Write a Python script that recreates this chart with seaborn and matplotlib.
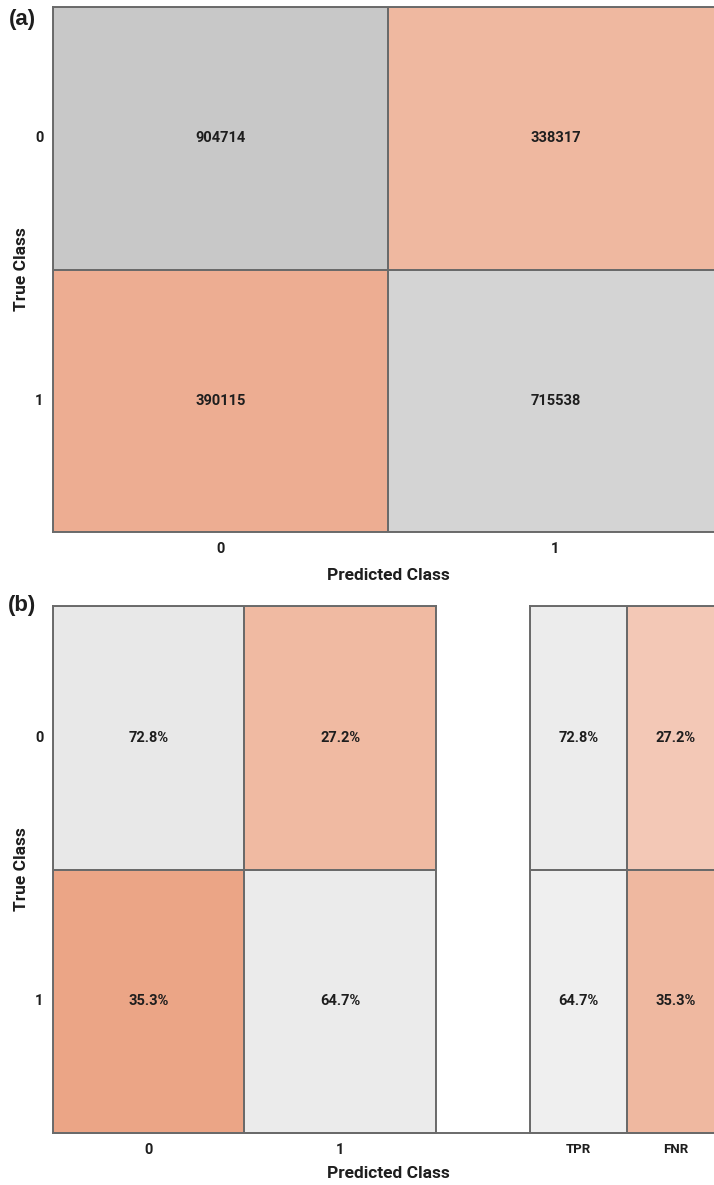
import numpy as np
import seaborn as sns
import matplotlib.pyplot as plt
from matplotlib.colors import LinearSegmentedColormap

# Confusion-matrix counts (rows: true class, columns: predicted class)
classes = ["0", "1"]
counts = np.array([[904714, 338317],
                   [390115, 715538]])
summary_labels = ["TPR", "FNR"]

# Row-normalised rates and per-class summary (TPR / FNR)
rates = counts / counts.sum(axis=1, keepdims=True) * 100
tpr = np.diag(rates)
summary = np.column_stack([tpr, 100 - tpr])

sns.set_theme(style="white")
plt.rcParams["font.family"] = ["Roboto", "DejaVu Sans"]
plt.rcParams["font.weight"] = "bold"

W, H = 714, 1185
fig = plt.figure(figsize=(W / 100, H / 100), dpi=100)

EDGE = "#6a6a6a"
TEXT = "#1e1e1e"
gray_cmap = LinearSegmentedColormap.from_list("diag", ["#ffffff", "#808080"])
orange_cmap = LinearSegmentedColormap.from_list("off", ["#ffffff", "#D95319"])


def px_axes(left, top, right, bottom, **kw):
    return fig.add_axes([left / W, 1 - bottom / H, (right - left) / W, (bottom - top) / H], **kw)


def draw_cells(ax, values, labels, gray_mask, gray_vmax, orange_vmax, xlabels, ylabels):
    kw = dict(annot=labels, fmt="", cbar=False, linewidths=1.1, linecolor=EDGE,
              annot_kws=dict(fontsize=10.5, fontweight="bold", color=TEXT), ax=ax,
              xticklabels=xlabels, yticklabels=ylabels)
    sns.heatmap(values, mask=~gray_mask, cmap=gray_cmap, vmin=0, vmax=gray_vmax, **kw)
    sns.heatmap(values, mask=gray_mask, cmap=orange_cmap, vmin=0, vmax=orange_vmax, **kw)
    for sp in ax.spines.values():
        sp.set_visible(True)
        sp.set_color(EDGE)
        sp.set_linewidth(1.4)
    ax.tick_params(length=0, labelsize=10.5, labelcolor=TEXT)
    ax.tick_params(axis="x", pad=7)
    ax.tick_params(axis="y", pad=7)
    plt.setp(ax.get_yticklabels(), rotation=0, fontweight="bold")
    plt.setp(ax.get_xticklabels(), rotation=0, fontweight="bold")


diag_mask = np.eye(2, dtype=bool)
label_kw = dict(fontsize=12.5, fontweight="bold", color=TEXT)

# (a) raw counts
ax_a = px_axes(53, 7, 723, 532)
count_labels = np.array([[f"{v:d}" for v in row] for row in counts])
draw_cells(ax_a, counts, count_labels, diag_mask, 2.1e6, 8.22e5, classes, classes)
ax_a.set_xlabel("Predicted Class", labelpad=9, **label_kw)
ax_a.set_ylabel("True Class", labelpad=4, **label_kw)

# (b) row-normalised rates with class summary
ax_bg = px_axes(53, 606, 724, 1133)
ax_bg.set_facecolor("none")
ax_bg.set_xticks([])
ax_bg.set_yticks([])
for name, sp in ax_bg.spines.items():
    sp.set_visible(name == "bottom")
    sp.set_color(EDGE)
    sp.set_linewidth(1.4)
ax_bg.set_xlabel("Predicted Class", labelpad=24, **label_kw)

ax_b = px_axes(53, 606, 436, 1133)
rate_labels = np.array([[f"{v:.1f}%" for v in row] for row in rates])
draw_cells(ax_b, rates, rate_labels, diag_mask, 400, 67, classes, classes)
ax_b.set_xlabel("")
ax_b.set_ylabel("True Class", labelpad=4, **label_kw)

ax_s = px_axes(530, 606, 724, 1133)
sum_labels = np.array([[f"{v:.1f}%" for v in row] for row in summary])
sum_mask = np.array([[True, False], [True, False]])
draw_cells(ax_s, summary, sum_labels, sum_mask, 490, 85.5, summary_labels, False)
ax_s.tick_params(axis="x", labelsize=9.5)

for y, tag in [(20, "(a)"), (606, "(b)")]:
    fig.text(22 / W, 1 - y / H, tag, fontsize=16, fontweight="bold", color=TEXT,
             ha="center", va="center", family=["Liberation Sans", "DejaVu Sans"])

fig.savefig("out.png", dpi=100, facecolor="white")
